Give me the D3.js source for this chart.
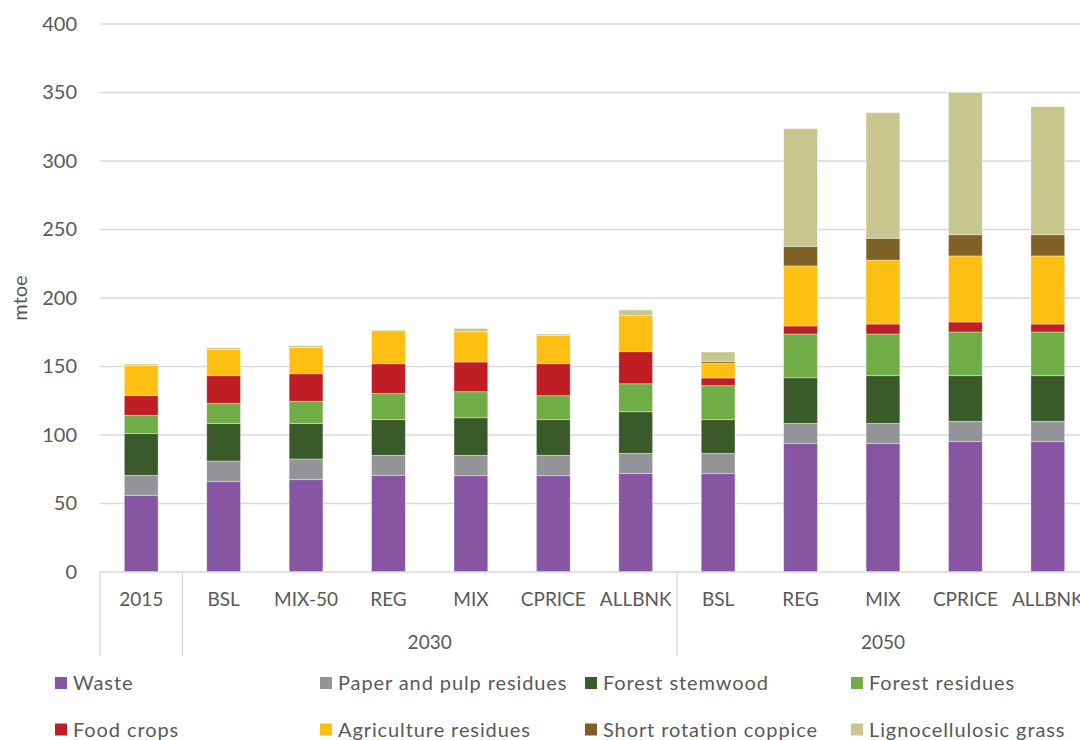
<!DOCTYPE html>
<html><head><meta charset="utf-8">
<script src="https://cdn.jsdelivr.net/npm/d3@7"></script>
<style>body{margin:0;background:#fff;}svg{display:block;}</style>
</head><body>
<svg id="chart" width="1080" height="740"></svg>
<script>
const categories = ["2015","BSL","MIX-50","REG","MIX","CPRICE","ALLBNK","BSL","REG","MIX","CPRICE","ALLBNK"];
const groups = [{label:"", from:0, to:1},{label:"2030", from:1, to:7},{label:"2050", from:7, to:12}];
const seriesNames = ["Waste","Paper and pulp residues","Forest stemwood","Forest residues","Food crops","Agriculture residues","Short rotation coppice","Lignocellulosic grass"];
const seriesColors = ["#8656A2","#939598","#3B5A2A","#70AD47","#BF1E24","#FDBF12","#7F6128","#C9C58F"];
const waste      = [56.0, 66.2, 67.4, 70.6, 70.3, 70.3, 72.0, 71.8, 93.9, 93.9, 95.4, 95.4];
const paperPulp  = [14.6, 14.8, 15.1, 14.6, 14.9, 14.9, 14.6, 14.8, 14.6, 14.6, 14.6, 14.6];
const stemwood   = [30.4, 27.3, 25.8, 26.0, 27.4, 26.0, 30.4, 24.6, 33.3, 34.8, 33.3, 33.3];
const forestRes  = [13.4, 14.8, 16.3, 19.2, 19.0, 17.5, 20.4, 24.8, 31.9, 30.4, 31.9, 31.9];
const foodCrops  = [14.3, 20.2, 20.1, 21.6, 21.7, 23.3, 23.4, 5.6, 5.9, 7.3, 7.3, 5.8];
const agriRes    = [22.2, 19.2, 19.3, 24.1, 22.1, 20.8, 26.3, 10.7, 43.8, 46.7, 48.2, 49.7];
const src        = [0, 0, 0, 0, 0, 0, 0, 1.2, 14.3, 15.9, 15.5, 15.5];
const ligno      = [0.9, 1.2, 1.2, 0.6, 2.4, 0.9, 4.1, 7.1, 85.9, 91.7, 103.7, 93.5];
const yTicks = [0,50,100,150,200,250,300,350,400];

const seriesValues = [waste,paperPulp,stemwood,forestRes,foodCrops,agriRes,src,ligno];
const table = categories.map((c,i)=>{const o={idx:i}; seriesNames.forEach((s,j)=>o[s]=seriesValues[j][i]); return o;});
const stacked = d3.stack().keys(seriesNames)(table);

const svg = d3.select("#chart");
const mLeft = 100, mRight = 1089, mTop = 24, mBottom = 572;
const x = d3.scaleBand().domain(d3.range(categories.length)).range([mLeft,mRight]).paddingInner(0.59).paddingOuter(0.295);
const y = d3.scaleLinear().domain([0,400]).range([mBottom,mTop]);
const font = "Lato, 'Open Sans', sans-serif";
const txt = "#595959";

// gridlines
svg.append("g").selectAll("line").data(yTicks.filter(t=>t>0)).join("line")
  .attr("x1",mLeft).attr("x2",1080).attr("y1",d=>y(d)).attr("y2",d=>y(d))
  .attr("stroke","#D9D9D9").attr("stroke-width",1.3);

// y axis labels
const yAxis = svg.append("g").attr("transform",`translate(${mLeft},0)`)
  .call(d3.axisLeft(y).tickValues(yTicks).tickSize(0).tickPadding(23));
yAxis.select(".domain").remove();
yAxis.selectAll("text").attr("font-family",font).attr("font-size",20).attr("fill",txt);

svg.append("text").attr("transform",`translate(27,${(mTop+mBottom)/2}) rotate(-90)`)
  .attr("text-anchor","middle").attr("font-family",font).attr("font-size",20).attr("fill",txt).text("mtoe");

// bars
svg.append("g").selectAll("g").data(stacked).join("g").attr("fill",(d,i)=>seriesColors[i])
  .selectAll("rect").data(d=>d.filter(s=>s[1]-s[0]>0)).join("rect")
  .attr("x",d=>x(d.data.idx)).attr("width",x.bandwidth())
  .attr("y",d=>y(d[1])).attr("height",d=>y(d[0])-y(d[1]))
  .attr("stroke","#ffffff").attr("stroke-opacity",0.45).attr("stroke-width",0.8);

// x axis baseline
svg.append("line").attr("x1",mLeft).attr("x2",1080).attr("y1",mBottom).attr("y2",mBottom)
  .attr("stroke","#D9D9D9").attr("stroke-width",1.3);

// category labels
const xAxis = svg.append("g").attr("transform",`translate(0,${mBottom})`)
  .call(d3.axisBottom(x).tickFormat(i=>categories[i]).tickSize(0).tickPadding(21));
xAxis.select(".domain").remove();
xAxis.selectAll("text").attr("font-family",font).attr("font-size",19).attr("fill",txt);

// group separators
const step = x.step();
const sepX = [0,1,7].map(i=>mLeft + i*step);
svg.append("g").selectAll("line").data(sepX).join("line")
  .attr("x1",d=>d).attr("x2",d=>d).attr("y1",mBottom).attr("y2",656)
  .attr("stroke","#D9D9D9").attr("stroke-width",1.3);
svg.append("g").selectAll("text").data(groups.filter(g=>g.label)).join("text")
  .attr("x",g=>mLeft + (g.from+g.to)/2*step).attr("y",649).attr("text-anchor","middle")
  .attr("font-family",font).attr("font-size",19).attr("fill",txt).text(g=>g.label);

// legend
const legX = [55,320,585,851], legY=[683,729.5];
const leg = svg.append("g").selectAll("g").data(seriesNames).join("g")
  .attr("transform",(d,i)=>`translate(${legX[i%4]},${legY[Math.floor(i/4)]})`);
leg.append("rect").attr("x",0).attr("y",-6).attr("width",12).attr("height",12).attr("fill",(d,i)=>seriesColors[i]);
leg.append("text").attr("x",18).attr("y",7).attr("font-family",font).attr("font-size",20)
  .attr("letter-spacing","0.9px").attr("fill",txt).text(d=>d);
</script>
</body></html>
